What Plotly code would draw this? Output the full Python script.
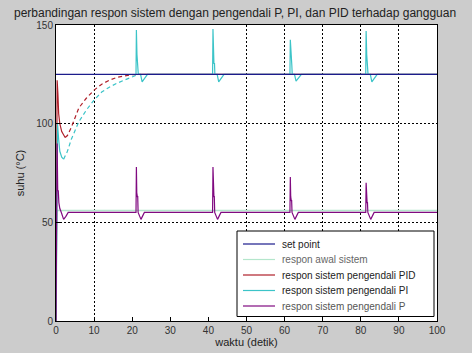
import plotly.graph_objects as go

# ---------------- data ----------------
x_ticks = [0, 10, 20, 30, 40, 50, 60, 70, 80, 90, 100]
y_ticks = [0, 50, 100, 150]

sp_t = [0, 100]
sp_y = [125, 125]

awal_t = [0, 0.3, 100]
awal_y = [0, 56, 56]

pid_t = [0, 0.15, 0.3, 0.5, 0.7, 1.0, 1.5, 2.4]
pid_y = [0, 60, 122, 115, 105, 100, 96, 93]
pid_rec_t = [2.4, 3, 4, 6, 8, 10, 12, 14, 16, 18, 20, 22]
pid_rec_y = [93, 94, 98, 108, 113, 117, 120, 122, 123.5, 124.3, 124.8, 125]
pid_end_t = [22, 100]
pid_end_y = [125, 125]

pi_t = [0, 0.2, 0.4, 0.7, 1.0, 1.5, 2.0]
pi_y = [0, 60, 100, 92, 86, 83, 82]
pi_rec_t = [2.0, 3, 4, 6, 8, 10, 12, 14, 16, 18, 20, 21.0]
pi_rec_y = [82, 86, 92, 101, 107, 112, 116, 118.5, 120.5, 122, 123.5, 124.5]
pi_end_t = [21.0, 21.1, 21.25, 21.35, 21.5, 21.6, 22.2, 22.6, 24.0,
            41.1, 41.2, 41.35, 41.45, 41.6, 41.7, 42.3, 42.7, 44.1,
            61.4, 61.5, 61.65, 61.75, 61.9, 62.0, 62.6, 63.0, 64.4,
            81.3, 81.4, 81.55, 81.65, 81.8, 81.9, 82.5, 82.9, 84.3,
            100]
pi_end_y = [125, 147.5, 135, 130.5, 130.5, 125, 125, 121.2, 125,
            125, 148, 135, 130.5, 130.5, 125, 125, 121.2, 125,
            125, 142.5, 133, 129.5, 129.5, 125, 125, 121.5, 125,
            125, 147, 135, 130.5, 130.5, 125, 125, 121.2, 125,
            125]

p_t = [0, 0.1, 0.3, 0.45, 0.6, 0.75, 1.0, 1.4, 2.0, 2.6, 3.2,
       21.0, 21.1, 21.2, 21.35, 21.45, 21.55, 22.3, 23.2,
       41.1, 41.2, 41.3, 41.45, 41.55, 41.65, 42.4, 43.3,
       61.4, 61.5, 61.6, 61.75, 61.85, 61.95, 62.7, 63.6,
       81.3, 81.4, 81.5, 81.65, 81.75, 81.85, 82.6, 83.5,
       100]
p_y = [0, 40, 90, 66, 66, 60, 57, 55, 51.5, 53, 55,
       55, 78, 65, 63, 63, 55, 51.5, 55,
       55, 78, 65, 63, 63, 55, 51.5, 55,
       55, 73, 63, 61, 61, 55, 51.5, 55,
       55, 70, 62, 60, 60, 55, 51.5, 55,
       55]

names = ["set point", "respon awal sistem", "respon sistem pengendali PID",
         "respon sistem pengendali PI", "respon sistem pengendali P"]
colors = ["#1c1c8c", "#b4e6cc", "#b0202a", "#3cc4c8", "#800a80"]
legend_text_colors = ["#222222", "#666666", "#222222", "#222222", "#555555"]

# ---------------- layout geometry ----------------
W, H = 472, 353
ML, MR, MT, MB = 56, 35, 25, 32
PW, PH = W - ML - MR, H - MT - MB


def px_x(px):
    return (px - ML) / PW


def px_y(py):
    return (H - MB - py) / PH


# ---------------- figure ----------------
fig = go.Figure()

fig.add_trace(go.Scatter(x=awal_t, y=awal_y, mode="lines", name=names[1],
                         line=dict(color=colors[1], width=1.4)))
fig.add_trace(go.Scatter(x=pid_t, y=pid_y, mode="lines", name=names[2],
                         line=dict(color=colors[2], width=1.2)))
fig.add_trace(go.Scatter(x=pid_rec_t, y=pid_rec_y, mode="lines",
                         line=dict(color=colors[2], width=1.2, dash="4px,3px")))
fig.add_trace(go.Scatter(x=pid_end_t, y=pid_end_y, mode="lines",
                         line=dict(color=colors[2], width=1.2)))
fig.add_trace(go.Scatter(x=pi_t, y=pi_y, mode="lines", name=names[3],
                         line=dict(color=colors[3], width=1.2)))
fig.add_trace(go.Scatter(x=pi_rec_t, y=pi_rec_y, mode="lines",
                         line=dict(color=colors[3], width=1.2, dash="4px,3px")))
fig.add_trace(go.Scatter(x=pi_end_t, y=pi_end_y, mode="lines",
                         line=dict(color=colors[3], width=1.2)))
fig.add_trace(go.Scatter(x=sp_t, y=sp_y, mode="lines", name=names[0],
                         line=dict(color=colors[0], width=1.2)))
fig.add_trace(go.Scatter(x=p_t, y=p_y, mode="lines", name=names[4],
                         line=dict(color=colors[4], width=1.2)))

# MATLAB-style legend box (compact rows, as in the reference)
fig.add_shape(type="rect", xref="paper", yref="paper", layer="above",
              x0=px_x(237), x1=px_x(434), y0=px_y(316.5), y1=px_y(231),
              fillcolor="white", line=dict(color="black", width=1))
row_y = [244, 259.5, 275, 290.5, 306]
for i, name in enumerate(names):
    fig.add_shape(type="line", xref="paper", yref="paper", layer="above",
                  x0=px_x(243), x1=px_x(275), y0=px_y(row_y[i]), y1=px_y(row_y[i]),
                  line=dict(color=colors[i], width=1.2))
    fig.add_annotation(xref="paper", yref="paper", x=px_x(280), y=px_y(row_y[i]),
                       xanchor="left", yanchor="middle", showarrow=False, text=name,
                       font=dict(family="Liberation Sans", size=10, color=legend_text_colors[i]))

axis_common = dict(
    showline=True, linecolor="black", linewidth=1, mirror=True,
    ticks="inside", ticklen=4, tickcolor="black",
    tickfont=dict(family="Liberation Sans", size=10, color="#333333"),
    zeroline=False, fixedrange=True, automargin=False,
)

fig.update_xaxes(
    range=[0, 100], tickvals=x_ticks, showgrid=False,
    title=dict(text="waktu (detik)", font=dict(family="Liberation Sans", size=11, color="#222222"),
               standoff=0),
    minor=dict(tickvals=[10, 50, 60, 70, 80, 90], showgrid=True, gridcolor="black",
               griddash="2px,2px", gridwidth=1, ticks=""),
    **axis_common,
)
fig.update_yaxes(
    range=[0, 150], tickvals=y_ticks, showgrid=True, gridcolor="black",
    griddash="2px,2px", gridwidth=1,
    title=dict(text="suhu (°C)", font=dict(family="Liberation Sans", size=11, color="#222222"),
               standoff=9),
    **axis_common,
)

fig.update_layout(
    width=W, height=H,
    margin=dict(l=ML, r=MR, t=MT, b=MB, autoexpand=False),
    paper_bgcolor="#cccccc", plot_bgcolor="white",
    title=dict(text="perbandingan respon sistem dengan pengendali P, PI, dan PID terhadap gangguan",
               x=14 / W, xref="container", xanchor="left", y=0.975, yref="container", yanchor="top",
               font=dict(family="Liberation Sans", size=12, color="#222222")),
    showlegend=False,
)

fig.write_html("out.html",
               config={"displayModeBar": False, "staticPlot": True},
               post_script="document.body.style.margin='0';document.body.style.padding='0';")
